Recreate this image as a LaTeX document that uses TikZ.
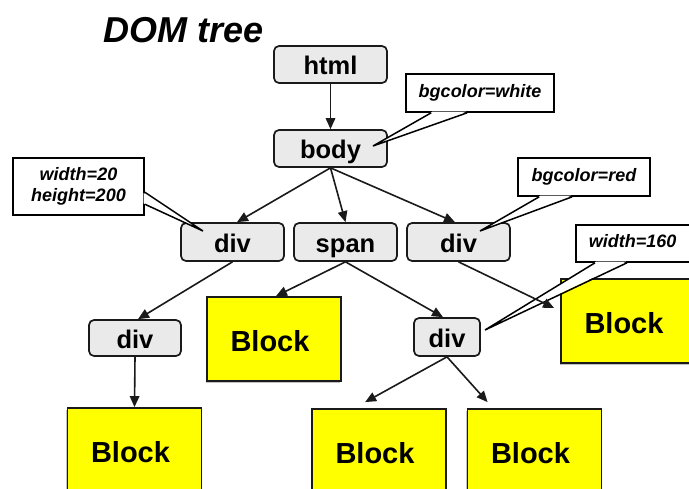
\documentclass[tikz,border=0pt]{standalone}
\usepackage{fontspec}
\setmainfont{Liberation Sans}
\usetikzlibrary{arrows.meta,shadows}
\definecolor{boxgray}{HTML}{EAEAEA}
\definecolor{blockyellow}{HTML}{FFFF00}
\definecolor{edgeline}{HTML}{1A1A1A}

\begin{document}
\begin{tikzpicture}[x=1pt,y=-1pt,
  treebox/.style={draw=edgeline, fill=boxgray, line width=1.7pt, rounded corners=5pt,
    inner sep=0pt, text height=20pt, text depth=0pt,
    font=\fontsize{25.5}{28}\selectfont\bfseries},
  blockbox/.style={draw=edgeline, fill=blockyellow, line width=1.8pt,
    minimum width=134pt, minimum height=84pt, inner sep=0pt,
    text height=24pt, text depth=0pt,
    font=\fontsize{29}{32}\selectfont\bfseries,
    execute at begin node=\kern-8pt,
    drop shadow={shadow xshift=-1.2pt, shadow yshift=-1.8pt, opacity=.4, fill=black!60}},
  notebox/.style={draw=black, fill=white, line width=1.6pt, inner sep=0pt,
    font=\fontsize{18}{21}\selectfont\bfseries\itshape},
  oneline/.style={text height=13pt, text depth=4.4pt},
  link/.style={draw=edgeline, line width=1.6pt, -{Triangle[length=11pt,width=9.5pt]}},
  pointer/.style={draw=black, line width=1.5pt}
]
\clip (0,0) rectangle (689,488);
\fill[white] (0,0) rectangle (689,488);

% title
\node[anchor=base west, inner sep=0pt, font=\fontsize{36}{40}\selectfont\bfseries\itshape]
  (title) at (103,42) {DOM tree};

% element nodes
\node[treebox, minimum width=113pt, minimum height=37pt] (html) at (330.5,64.5) {html};
\node[treebox, minimum width=113pt, minimum height=37pt] (body) at (330.5,148.5) {body};
\node[treebox, minimum width=103pt, minimum height=38pt] (divA) at (232.5,242) {div};
\node[treebox, minimum width=103pt, minimum height=38pt] (span) at (345.5,242) {span};
\node[treebox, minimum width=103pt, minimum height=38pt] (divB) at (458.5,242) {div};
\node[treebox, minimum width=92pt, minimum height=36pt] (divC) at (135,338) {div};
\node[treebox, minimum width=66pt, minimum height=38pt] (divD) at (447,337) {div};

% layout blocks
\node[blockbox] (blkA) at (134.5,450) {Block};
\node[blockbox] (blkB) at (274,339) {Block};
\node[blockbox] (blkC) at (628,321) {Block};
\node[blockbox] (blkD) at (379,451) {Block};
\node[blockbox] (blkE) at (534.5,451) {Block};

% style notes with their pointers
\node[notebox, oneline, minimum width=148pt, minimum height=38pt] (noteWhite) at (480,93) {bgcolor=white};
\coordinate (tipWhite) at (373,146);
\fill[white] ([xshift=27pt,yshift=1.1pt]noteWhite.south west) -- (tipWhite)
  -- ([xshift=61pt,yshift=1.1pt]noteWhite.south west) -- cycle;
\draw[pointer] ([xshift=26pt]noteWhite.south west) -- (tipWhite) -- ([xshift=62pt]noteWhite.south west);

\node[notebox, align=center, minimum width=131pt, minimum height=57pt] (noteSize) at (78.5,186.5) {width=20\\height=200};
\coordinate (tipSize) at (203,231);
\fill[white] ([xshift=-1.1pt,yshift=-35.8pt]noteSize.north east) -- (tipSize)
  -- ([xshift=-1.1pt,yshift=-46.2pt]noteSize.north east) -- cycle;
\draw[pointer] ([yshift=-35pt]noteSize.north east) -- (tipSize) -- ([yshift=-47pt]noteSize.north east);

\node[notebox, oneline, minimum width=132pt, minimum height=38pt] (noteRed) at (584,177) {bgcolor=red};
\coordinate (tipRed) at (480,231);
\fill[white] ([xshift=23pt,yshift=1.1pt]noteRed.south west) -- (tipRed)
  -- ([xshift=54pt,yshift=1.1pt]noteRed.south west) -- cycle;
\draw[pointer] ([xshift=22pt]noteRed.south west) -- (tipRed) -- ([xshift=55pt]noteRed.south west);

\node[notebox, oneline, anchor=west, inner xsep=13pt, minimum height=37pt] (noteWidth) at (575,243.5) {\makebox[120pt][l]{width=160}};
\coordinate (tipWidth) at (485,330);
\fill[white] ([xshift=21pt,yshift=1.1pt]noteWidth.south west) -- (tipWidth)
  -- ([xshift=51pt,yshift=1.1pt]noteWidth.south west) -- cycle;
\draw[pointer] ([xshift=20pt]noteWidth.south west) -- (tipWidth) -- ([xshift=52pt]noteWidth.south west);

% tree edges
\draw[link] (html.south) -- (body.north);
\draw[link] (body.south) -- ([xshift=4.5pt]divA.north);
\draw[link] (body.south) -- (span.north);
\draw[link] (body.south) -- ([xshift=-3.5pt]divB.north);
\draw[link] (divA.south) -- ([xshift=3pt]divC.north);
\draw[link] (divC.south) -- (blkA.north);
\draw[link] (span.south) -- ([xshift=2pt]blkB.north);
\draw[link] (span.south) -- ([xshift=-4pt]divD.north);
\draw[link] (divB.south) -- ([xshift=-6pt,yshift=13pt]blkC.west);
\draw[link] (divD.south) -- ([xshift=54pt,yshift=6pt]blkD.north west);
\draw[link] (divD.south) -- ([xshift=21pt,yshift=6pt]blkE.north west);
\end{tikzpicture}
\end{document}
